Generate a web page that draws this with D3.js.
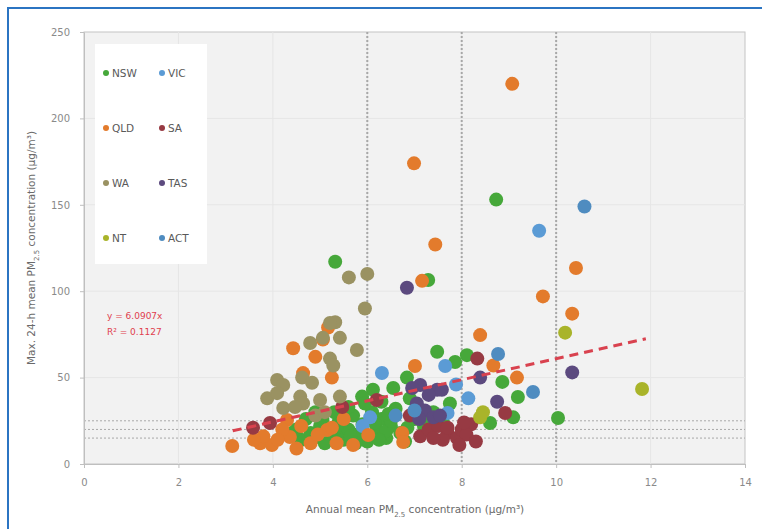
<!DOCTYPE html>
<html>
<head>
<meta charset="utf-8">
<script src="https://cdn.jsdelivr.net/npm/d3@7"></script>
<style>
  body { margin: 0; background: #fff; }
  text { font-family: "DejaVu Sans", sans-serif; }
</style>
</head>
<body>
<svg width="762" height="529"></svg>
<script>
// values: [annual mean, max 24-h mean]
var nsw = [[8.73,153],[5.32,117],[7.29,106.5],[7.48,65],[8.11,63],[7.86,59],[6.84,50],[8.86,47.5],
  [9.19,38.8],[7.75,35],[8.6,23.7],[10.04,26.6],[6.55,44],[6.12,43],[5.89,39],[9.09,27],
  [4.94,15.6],[5.28,15.6],[5.49,19.7],[4.6,14],[4.8,18],[5.0,22],[5.1,12],[5.2,19],[5.4,25],
  [5.5,14],[5.6,20],[5.7,28],[5.8,17],[5.9,23],[6.0,13],[6.1,30],[6.2,20],[6.3,26],[6.4,15],
  [6.5,22],[6.6,32],[6.7,18],[6.3,36],[5.6,33],[4.7,26],[7.0,26],[7.2,22],[7.4,30],[6.9,38],
  [7.6,24],[5.3,30],[4.9,30],[6.8,13],[6.4,19],[6.5,25],[5.95,35],[4.5,20],[5.75,12],
  [5.05,26],[5.35,22],[5.65,16],[6.15,24],[6.25,14],[6.45,29],[6.85,21],[7.15,28],[4.4,18]];
var vic = [[9.64,135],[7.65,56.7],[6.31,52.7],[7.88,46],[8.14,38],[6.06,27],[7.7,29.5],[5.9,22]];
var qld = [[9.07,220],[6.99,174],[7.44,127],[10.42,113.4],[9.72,97],[10.34,87],[8.39,74.6],
  [7.16,106],[7.01,56.7],[8.67,57],[9.17,50],[4.43,67],[4.64,52.6],[5.17,79],[5.06,72],[5.25,50],
  [4.9,62],[3.14,10.4],[3.73,12],[3.98,11],[4.36,15.6],[4.3,25.5],[5.15,19.7],[5.25,21],
  [6.02,16.8],[6.74,18],[6.76,12.7],[4.2,20],[4.6,22],[4.8,12],[5.5,26],[3.8,16],[4.1,14],
  [5.7,11],[4.5,9],[3.6,14],[4.95,17],[5.35,12]];
var sa = [[8.33,61],[7.12,16],[7.3,20],[7.5,22],[7.7,18],[7.9,15],[8.0,20],[8.2,23],[7.6,14],
  [8.1,17],[7.4,15],[6.2,37],[5.47,33],[8.92,29.5],[3.58,21],[3.94,23.7],[7.7,21],[8.05,24],
  [6.9,28],[8.3,13],[7.95,11]];
var wa = [[5.61,108],[6.0,110],[5.95,90],[5.32,82],[5.21,81.6],[5.42,73],[5.06,73],[4.79,70],
  [5.78,66],[5.21,61],[5.28,57],[4.09,48.6],[4.22,45.7],[3.88,38],[4.09,41],[4.22,32.4],
  [4.62,50],[4.83,47],[4.58,39],[4.64,35],[5.0,37],[5.42,39],[4.47,33],[4.9,28],[5.1,30]];
var tas = [[6.84,102],[10.34,53],[8.39,50],[7.12,45.7],[6.95,44],[7.48,43],[8.75,36],[7.05,35],
  [7.22,31],[7.1,26],[7.4,27],[7.54,28],[7.58,43],[7.3,40]];
var nt = [[10.19,76],[11.82,43.4],[8.39,27],[8.45,30]];
var act = [[10.6,149],[8.77,63.7],[9.51,41.7],[6.6,28],[7.0,31]];

var seriesNames = ["NSW", "VIC", "QLD", "SA", "WA", "TAS", "NT", "ACT"];
var seriesData = [nsw, vic, qld, sa, wa, tas, nt, act];
var seriesColors = ["#46a83a", "#5b9bd5", "#e37b2c", "#973a43", "#9a9262", "#5c4a7f", "#a9b42a", "#4f8cc0"];

var xTicks = [0, 2, 4, 6, 8, 10, 12, 14];
var yTicks = [0, 50, 100, 150, 200, 250];
var refX = [6, 8, 10];           // dotted vertical markers
var refY = [15, 20, 25];         // dotted horizontal markers
var trend = [[3.15, 19.2], [11.9, 72.5]];
var trendText = ["y = 6.0907x", "R\u00b2 = 0.1127"];

var svg = d3.select("svg");

svg.append("rect")
  .attr("x", 8).attr("y", 8).attr("width", 800).attr("height", 600)
  .attr("fill", "none").attr("stroke", "#2b74c2").attr("stroke-width", 2);

var xScale = d3.scaleLinear().domain([0, 14]).range([84, 745]);
var yScale = d3.scaleLinear().domain([0, 250]).range([464, 32]);

svg.append("rect")
  .attr("x", 84).attr("y", 32).attr("width", 661).attr("height", 432)
  .attr("fill", "#f2f2f2").attr("stroke", "#c4c4c4");

// faint grid
svg.append("g").selectAll("line")
  .data(yTicks.slice(1, -1))
  .enter().append("line")
  .attr("x1", 84).attr("x2", 745)
  .attr("y1", function(d) { return yScale(d); })
  .attr("y2", function(d) { return yScale(d); })
  .attr("stroke", "#e6e6e6");

svg.append("g").selectAll("line")
  .data(xTicks.slice(1, -1))
  .enter().append("line")
  .attr("y1", 32).attr("y2", 464)
  .attr("x1", function(d) { return xScale(d); })
  .attr("x2", function(d) { return xScale(d); })
  .attr("stroke", "#e6e6e6");

svg.append("g").selectAll("line")
  .data(refX)
  .enter().append("line")
  .attr("y1", 32).attr("y2", 464)
  .attr("x1", function(d) { return xScale(d); })
  .attr("x2", function(d) { return xScale(d); })
  .attr("stroke", "#a8a8a8").attr("stroke-width", 2)
  .attr("stroke-dasharray", "2,2");

svg.append("g").selectAll("line")
  .data(refY)
  .enter().append("line")
  .attr("x1", 84).attr("x2", 745)
  .attr("y1", function(d) { return yScale(d); })
  .attr("y2", function(d) { return yScale(d); })
  .attr("stroke", "#a8a8a8").attr("stroke-width", 1)
  .attr("stroke-dasharray", "2,2");

// axes
var xAxis = svg.append("g")
  .attr("transform", "translate(0,464)")
  .call(d3.axisBottom(xScale).tickValues(xTicks).tickSize(4).tickSizeOuter(0).tickPadding(11));
var yAxis = svg.append("g")
  .attr("transform", "translate(84,0)")
  .call(d3.axisLeft(yScale).tickValues(yTicks).tickSize(4).tickSizeOuter(0).tickPadding(10));

[xAxis, yAxis].forEach(function(a) {
  a.select(".domain").attr("stroke", "#bfbfbf");
  a.selectAll(".tick line").attr("stroke", "#bfbfbf");
  a.selectAll(".tick text").attr("fill", "#8a8a8a")
    .style("font-size", "10px").style("font-family", "DejaVu Sans, sans-serif");
});

// points
seriesData.forEach(function(pts, i) {
  svg.append("g").selectAll("circle")
    .data(pts)
    .enter().append("circle")
    .attr("cx", function(d) { return xScale(d[0]); })
    .attr("cy", function(d) { return yScale(d[1]); })
    .attr("r", 7)
    .attr("fill", seriesColors[i]);
});

// trend line
svg.append("path")
  .datum(trend)
  .attr("d", d3.line().x(function(d) { return xScale(d[0]); }).y(function(d) { return yScale(d[1]); }))
  .attr("fill", "none").attr("stroke", "#d9424f").attr("stroke-width", 3)
  .attr("stroke-dasharray", "9,6");

svg.append("g").selectAll("text")
  .data(trendText)
  .enter().append("text")
  .attr("x", 107)
  .attr("y", function(d, i) { return 319 + i * 16; })
  .attr("fill", "#e0404e")
  .style("font-size", "9px")
  .text(function(d) { return d; });

// legend
svg.append("rect")
  .attr("x", 95).attr("y", 44).attr("width", 112).attr("height", 220)
  .attr("fill", "#ffffff");

var legend = svg.append("g").selectAll("g")
  .data(seriesNames)
  .enter().append("g")
  .attr("transform", function(d, i) {
    return "translate(" + (106 + (i % 2) * 56) + "," + (73 + Math.floor(i / 2) * 55) + ")";
  });
legend.append("circle").attr("r", 3).attr("fill", function(d, i) { return seriesColors[i]; });
legend.append("text")
  .attr("x", 6).attr("dy", "0.35em")
  .attr("fill", "#595959")
  .style("font-size", "10.5px")
  .text(function(d) { return d; });

// axis titles
var xt = svg.append("text")
  .attr("x", 415).attr("y", 513)
  .attr("text-anchor", "middle")
  .attr("fill", "#6a6a6a").style("font-size", "10.5px");
xt.append("tspan").text("Annual mean PM");
xt.append("tspan").attr("baseline-shift", "sub").style("font-size", "7px").text("2.5");
xt.append("tspan").text(" concentration (\u00b5g/m\u00b3)");

var yt = svg.append("text")
  .attr("transform", "translate(35,248) rotate(-90)")
  .attr("text-anchor", "middle")
  .attr("fill", "#6a6a6a").style("font-size", "10.5px");
yt.append("tspan").text("Max. 24-h mean PM");
yt.append("tspan").attr("baseline-shift", "sub").style("font-size", "7px").text("2.5");
yt.append("tspan").text(" concentration (\u00b5g/m\u00b3)");
</script>
</body>
</html>
